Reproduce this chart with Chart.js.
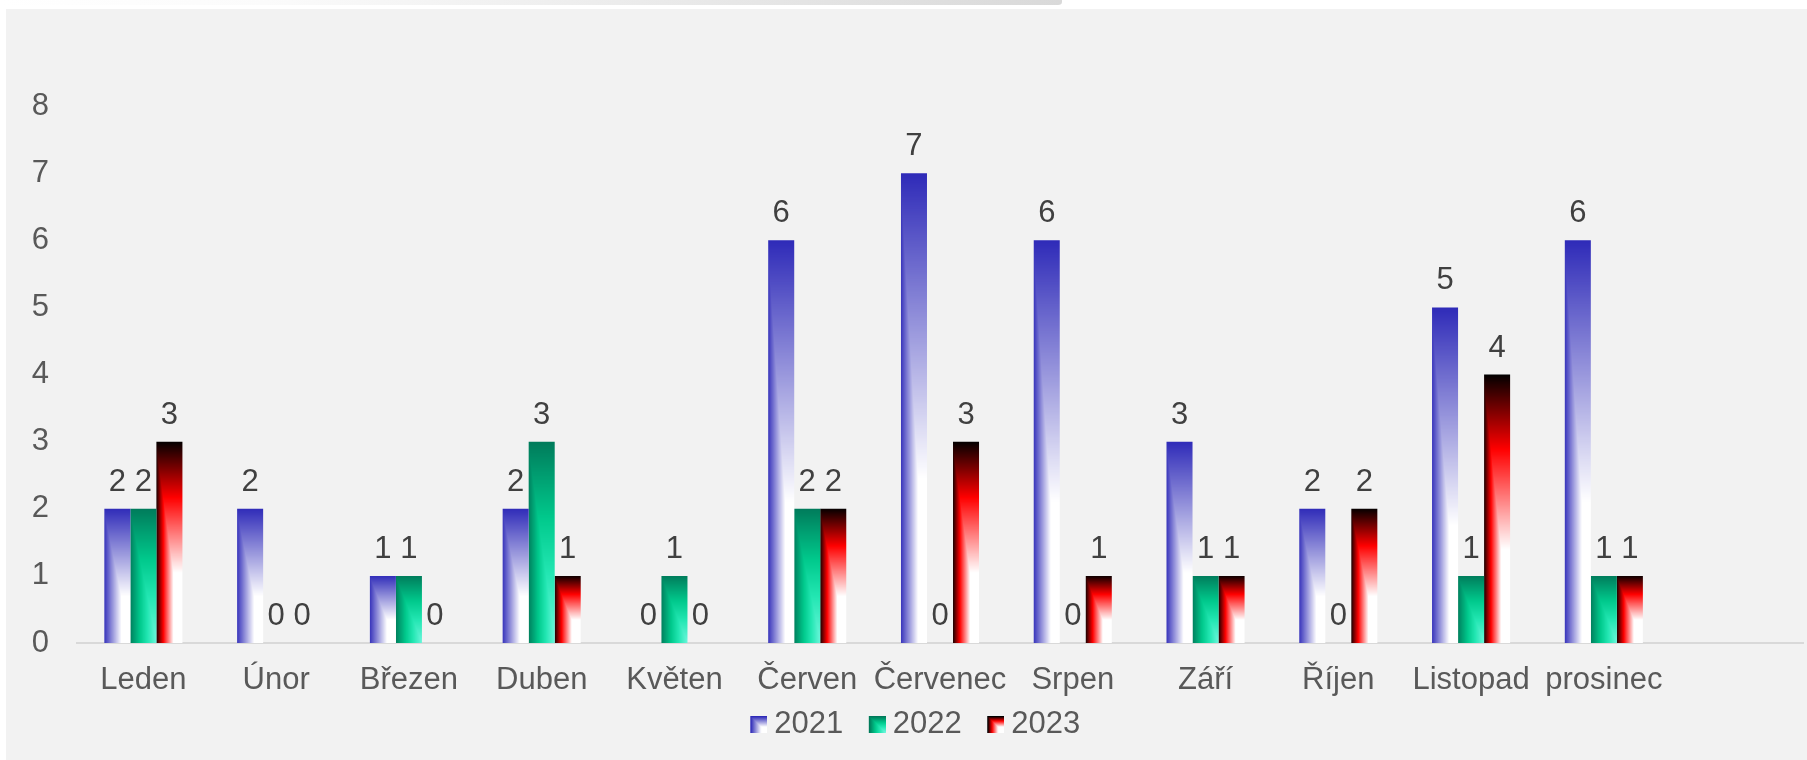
<!DOCTYPE html>
<html>
<head>
<meta charset="utf-8">
<script src="https://cdn.jsdelivr.net/npm/chart.js@4"></script>
<style>
  html, body { margin: 0; padding: 0; background: #ffffff; }
  #wrap { width: 1807px; height: 760px; position: relative; }
</style>
</head>
<body>
<div id="wrap"><canvas id="monthChart"></canvas></div>
<script>
const months = ['Leden', 'Únor', 'Březen', 'Duben', 'Květen', 'Červen', 'Červenec', 'Srpen', 'Září', 'Říjen', 'Listopad', 'prosinec'];
const years = ['2021', '2022', '2023'];
const values2021 = [2, 2, 1, 2, 0, 6, 7, 6, 3, 2, 5, 6];
const values2022 = [2, 0, 1, 3, 1, 2, 0, 0, 1, 0, 1, 1];
const values2023 = [3, 0, 0, 1, 0, 2, 3, 1, 1, 2, 4, 1];
const yMin = 0;
const yMax = 8;
const yStep = 1;

const FONT = '"Liberation Sans", Arial, sans-serif';
const FONT_SIZE = 31;
const CAT_PCT = 0.588;

// colour stops along d = max(1-u, 1-v)  (0 = bottom-right corner, 1 = top / left edge)
const blueStops = [[0, '#ffffff'], [0.35, '#ffffff'], [1, '#2e2ab8']];
const greenStops = [[0, '#70f7de'], [0.35, '#22e6b2'], [0.62, '#00c98c'], [1, '#007a5a']];
const redStops = [[0, '#ffffff'], [0.35, '#ffffff'], [0.72, '#ff0000'], [1, '#000000']];

function hexRgb(h) {
    return [parseInt(h.slice(1, 3), 16), parseInt(h.slice(3, 5), 16), parseInt(h.slice(5, 7), 16)];
}

function colourAt(stops, d) {
    for (let i = 1; i < stops.length; i++) {
        if (d <= stops[i][0]) {
            const a = stops[i - 1], b = stops[i];
            const t = (d - a[0]) / (b[0] - a[0] || 1);
            const ca = hexRgb(a[1]), cb = hexRgb(b[1]);
            return ca.map((v, k) => Math.round(v + (cb[k] - v) * t));
        }
    }
    return hexRgb(stops[stops.length - 1][1]);
}

function makeTexture(stops, w, h) {
    const c = document.createElement('canvas');
    c.width = w;
    c.height = h;
    const g = c.getContext('2d');
    const img = g.createImageData(w, h);
    for (let y = 0; y < h; y++) {
        for (let x = 0; x < w; x++) {
            const u = x / (w - 1), v = y / (h - 1);
            const col = colourAt(stops, Math.max(1 - u, 1 - v));
            const p = (y * w + x) * 4;
            img.data[p] = col[0];
            img.data[p + 1] = col[1];
            img.data[p + 2] = col[2];
            img.data[p + 3] = 255;
        }
    }
    g.putImageData(img, 0, 0);
    return c;
}

// legend icon: transparent on the left, 17px gradient square on the right
function makeIcon(stops) {
    const c = document.createElement('canvas');
    c.width = 41;
    c.height = 17;
    c.getContext('2d').drawImage(makeTexture(stops, 17, 17), 24, 0);
    return c;
}

const textures = [blueStops, greenStops, redStops].map(s => makeTexture(s, 64, 256));
const legendIcons = [blueStops, greenStops, redStops].map(makeIcon);
const solidColours = ['#2e2ab8', '#00a878', '#d00000'];

function barFill(dsIndex, values) {
    return (c) => {
        if (c.type !== 'data') return solidColours[dsIndex];
        const chart = c.chart;
        const xs = chart.scales.x, ys = chart.scales.y;
        const v = values[c.dataIndex];
        if (!xs || !ys || v == null) return solidColours[dsIndex];
        const cw = xs.getPixelForValue(1) - xs.getPixelForValue(0);
        const bw = cw * CAT_PCT / 3;
        const left = xs.getPixelForValue(c.dataIndex) - 1.5 * bw + dsIndex * bw;
        const top = ys.getPixelForValue(v);
        const base = ys.getPixelForValue(0);
        const h = base - top;
        if (h <= 0) return solidColours[dsIndex];
        const tex = textures[dsIndex];
        const p = chart.ctx.createPattern(tex, 'no-repeat');
        p.setTransform(new DOMMatrix([(bw + 2) / tex.width, 0, 0, (h + 2) / tex.height, left - 1, top - 1]));
        return p;
    };
}

const backgroundPlugin = {
    id: 'background',
    beforeDraw(chart) {
        const ctx = chart.ctx;
        const w = chart.width, h = chart.height;
        ctx.save();
        ctx.fillStyle = '#ffffff';
        ctx.fillRect(0, 0, w, h);
        ctx.fillStyle = '#f2f2f2';
        ctx.fillRect(6, 9, w - 6, h - 9);
        const g = ctx.createLinearGradient(0, 0, 1062, 0);
        g.addColorStop(0, '#ffffff');
        g.addColorStop(0.25, '#fbfbfb');
        g.addColorStop(1, '#d9d9d9');
        ctx.fillStyle = g;
        ctx.beginPath();
        ctx.moveTo(0, 0);
        ctx.lineTo(1062, 0);
        ctx.lineTo(1062, 2);
        ctx.quadraticCurveTo(1062, 5, 1058, 5);
        ctx.lineTo(0, 5);
        ctx.closePath();
        ctx.fill();
        ctx.restore();
    }
};

const valueLabels = {
    id: 'valueLabels',
    afterDatasetsDraw(chart) {
        const ctx = chart.ctx;
        ctx.save();
        ctx.font = FONT_SIZE + 'px ' + FONT;
        ctx.fillStyle = '#404040';
        ctx.textAlign = 'center';
        ctx.textBaseline = 'alphabetic';
        chart.data.datasets.forEach((ds, i) => {
            const meta = chart.getDatasetMeta(i);
            meta.data.forEach((bar, j) => {
                const v = ds.data[j];
                if (v == null) return;
                ctx.fillText(String(v), bar.x, bar.y - 18);
            });
        });
        ctx.restore();
    }
};

const ctx = document.getElementById('monthChart');
new Chart(ctx, {
    type: 'bar',
    data: {
        labels: [...months, ''],
        datasets: [
            { label: years[0], data: values2021, backgroundColor: barFill(0, values2021) },
            { label: years[1], data: values2022, backgroundColor: barFill(1, values2022) },
            { label: years[2], data: values2023, backgroundColor: barFill(2, values2023) }
        ]
    },
    options: {
        responsive: true,
        maintainAspectRatio: false,
        animation: false,
        events: [],
        datasets: {
            bar: { categoryPercentage: CAT_PCT, barPercentage: 1.0, borderWidth: 0 }
        },
        layout: { padding: { left: 12, right: 4, top: 106, bottom: 10 } },
        plugins: {
            legend: {
                position: 'bottom',
                labels: {
                    usePointStyle: true,
                    pointStyleWidth: 24,
                    boxHeight: 17,
                    padding: 10,
                    color: '#595959',
                    font: { family: FONT, size: FONT_SIZE },
                    generateLabels: (chart) => chart.data.datasets.map((ds, i) => ({
                        text: ds.label,
                        pointStyle: legendIcons[i],
                        fillStyle: 'rgba(0,0,0,0)',
                        strokeStyle: 'rgba(0,0,0,0)',
                        lineWidth: 0,
                        hidden: false,
                        datasetIndex: i,
                        fontColor: '#595959'
                    }))
                }
            },
            tooltip: { enabled: false }
        },
        scales: {
            x: {
                offset: true,
                grid: { display: false, drawTicks: false },
                border: { display: true, color: '#d9d9d9', width: 2 },
                ticks: {
                    color: '#595959',
                    font: { family: FONT, size: FONT_SIZE },
                    padding: 19,
                    maxRotation: 0,
                    autoSkip: false
                },
                afterFit: (scale) => { scale.height = 56; }
            },
            y: {
                min: yMin,
                max: yMax,
                grid: { display: false, drawTicks: false },
                border: { display: false },
                ticks: {
                    stepSize: yStep,
                    color: '#595959',
                    font: { family: FONT, size: FONT_SIZE },
                    padding: 28
                },
                afterFit: (scale) => { scale.width = 65; }
            }
        }
    },
    plugins: [backgroundPlugin, valueLabels]
});
</script>
</body>
</html>
